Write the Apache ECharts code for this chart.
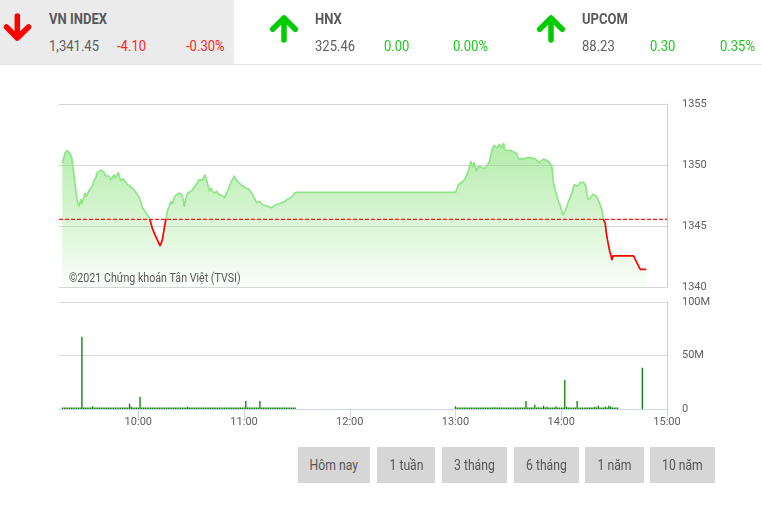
<!DOCTYPE html>
<html><head><meta charset="utf-8">
<script src="https://cdn.jsdelivr.net/npm/echarts@6/dist/echarts.min.js"></script>
<style>
html,body{margin:0;padding:0;background:#fff;}
body{width:762px;height:509px;position:relative;overflow:hidden;font-family:Roboto,"Noto Sans",sans-serif;}
#chart{position:absolute;left:0;top:0;width:762px;height:509px;}
.hdr{position:absolute;left:0;top:0;width:762px;height:64px;border-bottom:1px solid #e6e6e6;z-index:2;}
.p0{position:absolute;left:0;top:0;width:234px;height:64px;background:#ebebeb;}
.t{position:absolute;white-space:nowrap;transform-origin:0 50%;transform:scaleX(0.87);}
.ti{font-size:14px;line-height:14px;font-weight:bold;color:#595959;top:12px;transform:scaleX(0.93);}
.nu{font-size:15px;line-height:15px;top:39px;}
.g{color:#1ec81e;} .r{color:#ff2424;} .k{color:#606060;}
svg.ar{position:absolute;}
.btn{position:absolute;top:447px;height:36px;background:#d6d6d6;display:flex;align-items:center;justify-content:center;z-index:2;}
.btn span{display:inline-block;font-size:14px;color:#555;transform:scaleX(0.87);white-space:nowrap;}
</style></head>
<body>
<div id="chart"></div>
<div class="hdr">
  <div class="p0"></div>
  <svg class="ar" style="left:0;top:10px" width="36" height="36" viewBox="0 0 36 36"><path d="M17.3 6 L17.3 28 M6.5 17 L17.3 28 L28.5 17" fill="none" stroke="#ff0000" stroke-width="5.5" stroke-linecap="round" stroke-linejoin="round"/></svg>
  <div class="t ti" style="left:49px">VN INDEX</div>
  <div class="t nu k" style="left:49px">1,341.45</div>
  <div class="t nu r" style="left:117px">-4.10</div>
  <div class="t nu r" style="left:186px">-0.30%</div>

  <svg class="ar" style="left:266px;top:10px" width="36" height="36" viewBox="0 0 36 36"><path d="M18 30 L18 8 M6.7 19.3 L18 8 L29.3 19.3" fill="none" stroke="#00cc00" stroke-width="5.5" stroke-linecap="round" stroke-linejoin="round"/></svg>
  <div class="t ti" style="left:315px">HNX</div>
  <div class="t nu k" style="left:315px">325.46</div>
  <div class="t nu g" style="left:384px">0.00</div>
  <div class="t nu g" style="left:453px">0.00%</div>

  <svg class="ar" style="left:533px;top:10px" width="36" height="36" viewBox="0 0 36 36"><path d="M18 30 L18 8 M6.7 19.3 L18 8 L29.3 19.3" fill="none" stroke="#00cc00" stroke-width="5.5" stroke-linecap="round" stroke-linejoin="round"/></svg>
  <div class="t ti" style="left:582px">UPCOM</div>
  <div class="t nu k" style="left:582px">88.23</div>
  <div class="t nu g" style="left:650px">0.30</div>
  <div class="t nu g" style="left:720px">0.35%</div>
</div>
<div class="btn" style="left:298px;width:72px"><span>Hôm nay</span></div>
<div class="btn" style="left:377px;width:58px"><span>1 tuần</span></div>
<div class="btn" style="left:442px;width:65px"><span>3 tháng</span></div>
<div class="btn" style="left:514px;width:65px"><span>6 tháng</span></div>
<div class="btn" style="left:585px;width:59px"><span>1 năm</span></div>
<div class="btn" style="left:650px;width:65px"><span>10 năm</span></div>
<script>
// ---- data ----
const refPrice = 1345.55;
const priceTicks = [1340, 1345, 1350, 1355];
const timeTickLabels = ["10:00","11:00","12:00","13:00","14:00","15:00"];
const volTickLabels = ["0","50M","100M"];

const priceTimes = [
"09:16:52","09:18:25","09:19:40","09:20:40","09:21:30","09:22:13","09:23:07","09:24:05","09:25:23","09:26:21",
"09:27:19","09:28:00","09:28:37","09:29:46","09:30:30","09:31:04","09:32:00","09:33:00","09:34:00","09:34:52",
"09:36:00","09:36:44","09:37:40","09:38:40","09:39:30","09:40:32","09:41:30","09:42:25","09:43:20","09:44:21",
"09:45:20","09:46:13","09:47:00","09:47:31","09:48:40","09:49:20","09:50:01","09:51:00","09:51:54","09:52:50",
"09:53:46","09:55:00","09:56:37","09:58:00","09:59:27","10:00:30","10:01:23","10:02:17","10:03:49","10:05:07",
"10:06:29","10:07:10","10:07:58","10:09:29","10:10:48","10:11:40","10:12:20","10:13:38","10:14:36","10:15:34",
"10:16:28","10:17:30","10:18:24","10:19:20","10:20:17","10:21:10","10:22:09","10:23:00","10:24:00","10:24:39",
"10:25:20","10:26:07","10:27:00","10:28:03","10:30:20","10:31:20","10:32:12","10:33:20","10:34:28","10:35:30",
"10:36:20","10:37:10","10:37:53","10:38:30","10:39:11","10:40:19","10:41:10","10:42:01","10:43:20","10:44:31",
"10:45:30","10:46:23","10:47:40","10:48:50","10:50:00","10:51:06","10:52:00","10:53:02","10:54:31","10:55:30",
"10:56:47","10:58:10","10:59:37","11:01:00","11:02:27","11:03:30","11:04:23","11:05:50","11:07:13","11:08:30",
"11:09:40","11:10:50","11:11:56","11:13:50","11:15:44","11:17:30","11:19:29","11:21:20","11:23:17","11:24:40",
"11:26:07","11:27:20","11:28:34","11:30:00","13:00:00","13:01:39","13:03:00","13:04:29","13:05:30","13:06:25",
"13:07:20","13:08:00","13:08:41","13:09:50","13:10:34","13:11:42","13:13:01","13:14:56","13:16:20","13:17:47",
"13:19:15","13:20:37","13:21:55","13:23:27","13:24:56","13:26:17","13:27:12","13:28:10","13:31:00","13:32:30",
"13:33:50","13:35:00","13:35:43","13:38:33","13:40:30","13:42:21","13:45:11","13:47:38","13:49:54","13:52:44",
"13:54:40","13:55:35","13:56:32","13:58:25","13:59:23","14:00:55","14:02:13","14:04:05","14:06:01","14:07:20",
"14:09:12","14:10:44","14:12:37","14:13:58","14:15:07","14:16:25","14:17:56","14:20:13","14:21:41","14:23:03",
"14:23:58","14:24:56","14:25:30","14:26:14","14:27:22","14:28:10","14:28:44","14:29:18","14:41:00","14:44:48",
"14:48:12"];
const priceValues = [
1350.14,1350.97,1351.2,1351.1,1350.9,1350.6,1349.6,1348.5,1347.0,1346.6,
1347.2,1346.8,1346.9,1347.7,1347.4,1347.6,1347.9,1348.1,1348.3,1348.7,
1349.0,1349.4,1349.3,1349.6,1349.5,1349.4,1349.1,1348.96,1349.1,1348.76,
1349.0,1349.2,1348.9,1348.8,1349.4,1349.0,1348.7,1348.9,1348.8,1348.6,
1348.4,1348.3,1348.1,1347.9,1347.6,1347.3,1347.0,1346.5,1346.2,1345.9,
1345.6,1345.5,1344.8,1344.27,1343.86,1343.6,1343.36,1343.86,1344.7,1345.5,
1346.2,1346.6,1347.0,1346.8,1347.3,1347.5,1347.6,1347.7,1347.6,1347.6,
1347.2,1346.6,1347.3,1347.7,1347.9,1348.1,1348.26,1348.5,1348.8,1348.7,
1348.76,1349.0,1349.2,1348.9,1348.55,1347.85,1348.1,1347.85,1347.7,1347.85,
1347.6,1347.7,1347.5,1347.3,1347.7,1348.0,1348.4,1348.7,1349.1,1348.8,
1348.6,1348.4,1348.26,1348.1,1348.05,1347.9,1347.7,1347.3,1346.9,1347.0,
1346.9,1346.7,1346.75,1346.6,1346.5,1346.7,1346.8,1346.9,1347.0,1347.2,
1347.3,1347.4,1347.7,1347.75,1347.75,1348.4,1348.5,1348.7,1348.9,1349.2,
1349.5,1349.9,1350.3,1349.8,1350.2,1349.5,1349.9,1349.8,1349.7,1349.9,
1350.3,1351.2,1351.6,1351.4,1351.7,1351.4,1351.8,1351.2,1351.2,1351.1,
1351.0,1350.9,1350.5,1350.5,1350.6,1350.6,1350.5,1350.2,1350.5,1350.3,
1349.9,1348.55,1348.0,1347.0,1346.7,1345.9,1346.2,1347.0,1347.7,1348.4,
1348.26,1348.55,1348.6,1348.26,1347.2,1347.3,1347.6,1347.4,1346.9,1346.3,
1345.5,1345.24,1344.5,1343.86,1343.0,1342.6,1342.2,1342.55,1342.55,1341.45,
1341.45];

// volume per minute (millions), morning from 09:17, afternoon from 13:00
const volMorningStart = "09:17";
const volMorning = [
0.8,1.5,0.8,0.7,0.9,0.8,0.7,1.2,0.9,0.8,0.8,67.6,0.9,
1.0,0.8,0.9,0.8,2.5,0.9,1.5,0.8,0.9,0.8,
0.9,0.8,1.0,0.8,0.7,0.9,0.8,1.2,0.8,0.9,
0.8,1.1,0.9,0.8,0.9,5.0,2.2,0.8,0.7,0.9,
0.8,11.5,1.3,1.0,0.9,0.8,0.9,0.8,0.8,0.9,
1.2,0.9,0.8,0.8,0.9,0.8,0.7,0.9,0.8,0.8,
0.9,0.8,0.7,0.9,0.8,0.9,0.8,1.0,2.0,0.9,
0.8,1.1,0.9,0.8,1.4,0.9,0.8,1.0,0.8,1.2,
0.9,0.8,1.1,0.8,0.9,1.0,0.8,0.9,0.8,1.0,
0.8,0.9,0.8,1.1,0.8,0.9,0.8,0.8,0.9,0.8,
0.9,7.5,1.0,0.8,0.9,0.8,0.8,0.9,0.8,7.5,
0.9,0.8,1.0,0.8,0.9,0.8,1.0,0.8,0.9,0.8,
0.8,0.9,0.8,1.0,0.8,0.9,0.8,0.8,0.9,0.8];
const volAfternoonStart = "13:00";
const volAfternoon = [
2.5,0.9,0.8,1.0,0.8,0.9,0.8,0.8,0.9,0.8,
0.9,0.8,1.0,0.8,0.9,0.8,0.8,0.9,0.8,0.9,
0.8,0.9,1.6,0.8,0.9,1.5,0.8,0.9,0.8,0.8,
0.9,0.8,0.8,0.9,0.8,0.8,0.9,0.8,0.9,0.8,
7.5,0.9,0.8,0.9,0.8,4.0,0.9,1.5,0.9,1.0,
3.0,0.9,2.0,1.2,0.9,1.0,0.8,2.5,0.9,0.8,
0.9,0.8,27.0,2.0,0.9,0.8,0.9,0.8,0.9,7.5,
0.9,0.8,1.0,0.9,0.8,1.1,1.5,0.9,0.8,2.0,
1.0,3.0,1.2,0.9,1.0,2.0,1.1,3.0,2.0,0.9,
0.8,0.9,1.0];
const volATCTime = "14:46";
const volATC = 38.6;

// ---- build ----
function toMin(s){const p=s.split(':').map(Number);return p[0]*60+p[1]+(p[2]||0)/60;}
function fmt(v){const h=Math.floor(v/60),m=Math.round(v%60);return (h<10?'0':'')+h+':'+(m<10?'0':'')+m;}
const priceData = priceTimes.map((t,i)=>[toMin(t),priceValues[i]]);
const volData = [];
volMorning.forEach((v,i)=>volData.push([toMin(volMorningStart)+i,v]));
volAfternoon.forEach((v,i)=>volData.push([toMin(volAfternoonStart)+i,v]));
volData.push([toMin(volATCTime),volATC]);
const xTicks = timeTickLabels.map(toMin);
const xMin = toMin("09:15"), xMax = toMin("15:00");
const refData = [[xMin, refPrice], [xMax, refPrice]];

const chart = echarts.init(document.getElementById('chart'), null, {renderer:'canvas'});
const lbl = {color:'#606060', fontSize:11, fontFamily:'Roboto'};
chart.setOption({
  animation:false,
  textStyle:{fontFamily:'Roboto'},
  grid:[
    {left:59, top:104, width:608, height:183},
    {left:59, top:302, width:608, height:107}
  ],
  xAxis:[
    {type:'value', gridIndex:0, min:xMin, max:xMax, show:false, splitLine:{show:false}},
    {type:'value', gridIndex:1, min:xMin, max:xMax,
     axisLine:{show:true, lineStyle:{color:'#ccd6eb'}},
     axisTick:{show:true, customValues:xTicks, length:10, lineStyle:{color:'#ccd6eb'}},
     axisLabel:Object.assign({customValues:xTicks, margin:8, formatter:fmt, showMinLabel:true, showMaxLabel:true}, lbl),
     splitLine:{show:false}}
  ],
  yAxis:[
    {type:'value', gridIndex:0, position:'right', min:priceTicks[0], max:priceTicks[priceTicks.length-1], interval:5,
     axisLine:{show:true, lineStyle:{color:'#cccccc'}}, axisTick:{show:false},
     axisLabel:Object.assign({margin:15, formatter:v=>String(v)}, lbl),
     splitLine:{lineStyle:{color:'#d6d6d6'}}},
    {type:'value', gridIndex:1, position:'right', min:0, max:100, interval:50,
     axisLine:{show:true, lineStyle:{color:'#cccccc'}}, axisTick:{show:false},
     axisLabel:Object.assign({margin:15, formatter:v=>volTickLabels[v/50]}, lbl),
     splitLine:{lineStyle:{color:'#dadada'}}}
  ],
  visualMap:{show:false, type:'piecewise', seriesIndex:1, dimension:1,
    pieces:[{min:1300, max:refPrice, color:'#ff0000'},{min:refPrice, max:1400, color:'#8fe588'}]},
  graphic:[{type:'text', x:69, y:279, scaleX:0.82, z:100,
    style:{text:'©2021 Chứng khoán Tân Việt (TVSI)', fill:'#5a5a5a', fontSize:13, fontFamily:'Roboto', verticalAlign:'middle'}}],
  series:[
    {type:'line', xAxisIndex:0, yAxisIndex:0, data:priceData, showSymbol:false, silent:true,
     lineStyle:{width:0}, z:1,
     areaStyle:{color:new echarts.graphic.LinearGradient(0,0,0,1,[
       {offset:0,color:'rgba(135,225,120,0.9)'},{offset:1,color:'rgba(135,225,120,0.06)'}])}},
    {type:'line', xAxisIndex:0, yAxisIndex:0, data:priceData, showSymbol:false, silent:true,
     lineStyle:{width:1.7}, z:3},
    {type:'line', xAxisIndex:0, yAxisIndex:0, data:refData, showSymbol:false, silent:true, z:2,
     itemStyle:{color:'#ff0000'},
     lineStyle:{color:'#ff1a1a', type:[4,2], width:1.2}},
    {type:'bar', xAxisIndex:1, yAxisIndex:1, data:volData, barWidth:1.3, barMinHeight:1.5, silent:true,
     itemStyle:{color:'#008000'}}
  ]
});
</script>
</body></html>
